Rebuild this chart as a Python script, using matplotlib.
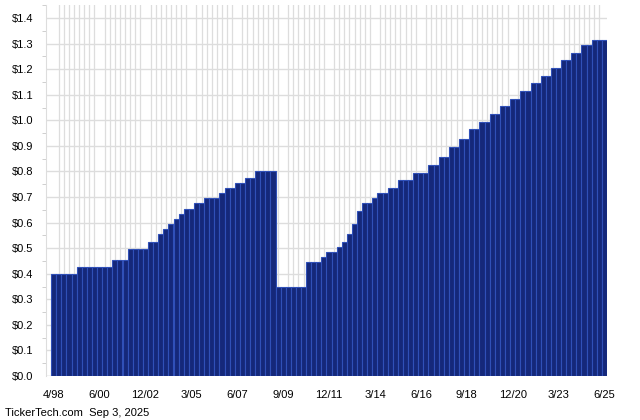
import matplotlib
matplotlib.use('Agg')
import matplotlib.pyplot as plt
import numpy as np
from matplotlib.ticker import MultipleLocator

levels = [0.40, 0.425, 0.455, 0.495, 0.525, 0.555, 0.575, 0.595, 0.615, 0.635,
          0.655, 0.675, 0.695, 0.715, 0.735, 0.755, 0.775, 0.80,
          0.35, 0.445, 0.465, 0.485, 0.505, 0.525, 0.555, 0.595, 0.645,
          0.675, 0.695, 0.715, 0.735, 0.765, 0.795, 0.825, 0.855,
          0.895, 0.925, 0.965, 0.995, 1.025, 1.055, 1.085, 1.115,
          1.145, 1.175, 1.205, 1.235, 1.265, 1.295, 1.315]
counts = [5, 7, 3, 4, 2, 1, 1, 1, 1, 1,
          2, 2, 3, 1, 2, 2, 2, 4,
          6, 3, 1, 2, 1, 1, 1, 1, 1,
          2, 1, 2, 2, 3, 3, 2, 2,
          2, 2, 2, 2, 2, 2, 2, 2,
          2, 2, 2, 2, 2, 2, 3]
xlabels = ['4/98', '6/00', '12/02', '3/05', '6/07', '9/09', '12/11',
           '3/14', '6/16', '9/18', '12/20', '3/23', '6/25']
ylabels = ['$0.0', '$0.1', '$0.2', '$0.3', '$0.4', '$0.5', '$0.6', '$0.7',
           '$0.8', '$0.9', '$1.0', '$1.1', '$1.2', '$1.3', '$1.4']

values = np.repeat(levels, counts)
x = np.arange(len(values))

plt.rcParams['font.family'] = ['Liberation Sans', 'DejaVu Sans']
fig = plt.figure(figsize=(6.4, 4.2), dpi=100)
ax = fig.add_axes([46/640, 44/420, 561/640, 371/420])

ax.bar(x, values, width=1.0, color='#15287a', edgecolor='#3050b8',
       linewidth=0.8, zorder=3)

ax.set_xlim(-1.5, len(values) - 0.5)
ax.set_ylim(0, 1.451)

# grid: one vertical line per quarter, one horizontal per 10 cents
ax.set_xticks(x, minor=True)
ax.grid(True, which='minor', axis='x', color='#dddddd', linewidth=0.9, zorder=0)
ax.set_yticks(np.arange(len(ylabels)) * 0.1)
ax.set_yticklabels(ylabels)
ax.yaxis.set_minor_locator(MultipleLocator(0.05))
ax.grid(True, which='major', axis='y', color='#dddddd', linewidth=1.0, zorder=0)

tick_pos = np.arange(len(xlabels)) * 9
ax.set_xticks(tick_pos)
ax.set_xticklabels(xlabels)

for s in ['top', 'right', 'bottom']:
    ax.spines[s].set_visible(False)
ax.spines['left'].set_color('#dddddd')
ax.axhline(0, color='#dddddd', linewidth=1.0, zorder=1)

ax.tick_params(axis='x', which='both', length=0, labelsize=8, pad=10)
ax.tick_params(axis='y', which='major', length=0, labelsize=8, pad=9)
ax.tick_params(axis='y', which='minor', length=3, color='#c8c8c8', left=True)

fig.text(5/640, 1 - 413/420, 'TickerTech.com  Sep 3, 2025', fontsize=8,
         va='center', ha='left')

fig.savefig('out.png', dpi=100)
